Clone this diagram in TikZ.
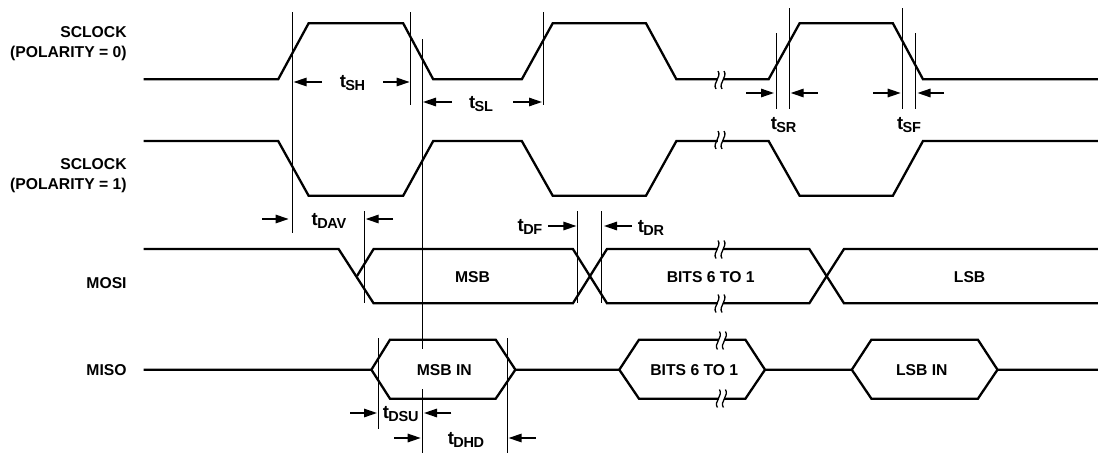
\documentclass[tikz,border=0pt]{standalone}
\usepackage{fontspec}
\setmainfont{Liberation Sans}
\usetikzlibrary{arrows.meta}

\newcommand{\tlab}[1]{{\fontsize{18.5}{18}\selectfont t}\kern-0.6pt\raisebox{-3.4pt}{\fontsize{14.5}{14}\selectfont\addfontfeature{LetterSpace=-2} #1}}

\begin{document}
\begin{tikzpicture}[x=1pt,y=-1pt,
  wave/.style={line width=2.3pt,line join=miter},
  guide/.style={line width=0.9pt},
  dim/.style={line width=1.4pt,-{Triangle[length=13pt,width=8.5pt]}},
  sig/.style={font=\bfseries\fontsize{15.7}{19.3}\selectfont,align=right,anchor=east,inner sep=0pt},
  txt/.style={font=\bfseries\fontsize{15.7}{16}\selectfont,inner sep=0pt},
  tim/.style={font=\bfseries,inner sep=0pt},
  breakmark/.pic={
    \fill[white] (-2.5,-6) rectangle (2.5,6);
    \foreach \dx in {-3,3}
      \draw[line width=1.3pt] (\dx+1,-9) .. controls (\dx+5,-3) and (\dx-5,3) .. (\dx-1,9);
  }]
  \useasboundingbox (0,0) rectangle (1098,453);

  % signal names
  \node[sig] (sclk0) at (126.8,43.5) {SCLOCK\\(POLARITY = 0)};
  \node[sig] (sclk1) at (126.8,175.5) {SCLOCK\\(POLARITY = 1)};
  \node[sig] (mosi) at (126.8,283) {MOSI};
  \node[sig] (miso) at (126.8,369.7) {MISO};

  % clocks
  \draw[wave] (143.6,79.3) -- (278.2,79.3) -- (308.6,23.3) -- (403.2,23.3) -- (433.2,79.3)
    -- (521.8,79.3) -- (552.7,23.3) -- (646,23.3) -- (676.4,79.3) -- (768.6,79.3)
    -- (799.6,23.3) -- (892.9,23.3) -- (923,79.3) -- (1098,79.3);
  \draw[wave] (143.6,141) -- (278.2,141) -- (308.6,195.7) -- (403.2,195.7) -- (433.2,141)
    -- (521.8,141) -- (552.7,195.7) -- (646,195.7) -- (676.4,141) -- (768.6,141)
    -- (799.6,195.7) -- (892.9,195.7) -- (923,141) -- (1098,141);

  % MOSI
  \draw[wave] (143.6,249) -- (338.6,249) -- (373.6,303.3) -- (572.9,303.3) -- (607,249)
    -- (809.3,249) -- (844,303.3) -- (1098,303.3);
  \draw[wave] (357,276) -- (373.6,249) -- (572.9,249) -- (607,303.3) -- (809.3,303.3)
    -- (844,249) -- (1098,249);

  % MISO
  \draw[wave] (143.6,369.7) -- (371.4,369.7) -- (390,339.7) -- (495.7,339.7) -- (515.4,369.7)
    -- (619.3,369.7) -- (639,339.7) -- (745.4,339.7) -- (765,369.7) -- (851.8,369.7)
    -- (871.4,339.7) -- (977.9,339.7) -- (997.5,369.7) -- (1098,369.7);
  \draw[wave] (371.4,369.7) -- (390,398.7) -- (495.7,398.7) -- (515.4,369.7);
  \draw[wave] (619.3,369.7) -- (639,398.7) -- (745.4,398.7) -- (765,369.7);
  \draw[wave] (851.8,369.7) -- (871.4,398.7) -- (977.9,398.7) -- (997.5,369.7);

  % breaks
  \foreach \bx/\by in {720/80,720/140,720/249.5,720/303.5,721.4/340.5,721.4/398.5}
    \pic at (\bx,\by) {breakmark};

  % guide lines
  \foreach \gx/\ga/\gb in {292/12/233,410.7/12/105,422/39/349,422/389/453,543/12/105,
    364.3/211/303,577.5/211/303,601.4/211/303,776/33/109,789/8/109,902.5/8/109,915.4/33/109,
    378.6/338/429,507/338/453}
    \draw[guide] (\gx,\ga) -- (\gx,\gb);

  % data labels
  \node[txt] (msb) at (472.5,277) {MSB};
  \node[txt] (bits) at (710.7,277) {BITS 6 TO 1};
  \node[txt] (lsb) at (969.6,277) {LSB};
  \node[txt] (msbin) at (444.3,370) {MSB IN};
  \node[txt] (bitsin) at (694.3,370) {BITS 6 TO 1};
  \node[txt] (lsbin) at (921.8,370) {LSB IN};

  % timing labels
  \node[tim] (tsh) at (352.5,83) {\tlab{SH}};
  \node[tim] (tsl) at (481,104) {\tlab{SL}};
  \node[tim] (tsr) at (783.6,125) {\tlab{SR}};
  \node[tim] (tsf) at (909,125) {\tlab{SF}};
  \node[tim] (tdav) at (329,221) {\tlab{DAV}};
  \node[tim] (tdf) at (530,227) {\tlab{DF}};
  \node[tim] (tdr) at (651,228) {\tlab{DR}};
  \node[tim] (tdsu) at (400.7,414) {\tlab{DSU}};
  \node[tim] (tdhd) at (466,440) {\tlab{DHD}};

  % timing arrows
  \foreach \ya/\xa/\xb in {82/322/293.6,82/383/409.6,102/452/423,102/513/542,
    93/746.4/774,93/817.5/790.7,93/873/900.7,93/944/917.5,
    219/262/288.6,219/393/365.7,226/548/576.4,226/632/604,
    413/350/377,413/451.4/424,438/394/420.7,438/535.7/508.6}
    \draw[dim] (\xa,\ya) -- (\xb,\ya);

\end{tikzpicture}
\end{document}
